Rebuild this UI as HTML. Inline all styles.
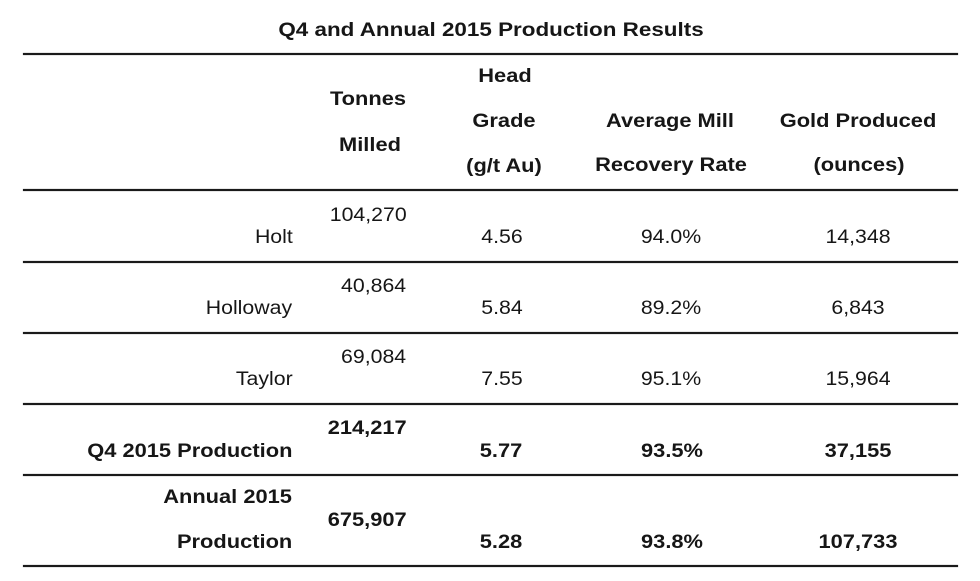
<!DOCTYPE html>
<html>
<head>
<meta charset="utf-8">
<style>
  html,body{margin:0;padding:0;background:#fff;}
  body{width:980px;height:581px;position:relative;overflow:hidden;
       font-family:"Liberation Sans", Arial, sans-serif;color:#161616;}
  .t{position:absolute;white-space:nowrap;font-size:19px;line-height:19px;}
  .b{font-weight:bold;}
  .c{transform-origin:50% 0;transform:translateX(-50%) scaleX(1.12);}
  .c.b{transform:translateX(-50%) scaleX(1.15);}
  .r{transform-origin:100% 0;transform:scaleX(1.12);}
  .r.b{transform:scaleX(1.15);}
  .ln{position:absolute;left:23px;width:935px;height:2px;background:#1a1a1a;
      box-shadow:0 0 1px #666;}
  .title{font-size:19.5px;line-height:19.5px;}
</style>
</head>
<body>
  <div class="t b c title" style="left:490.5px;top:20.5px;">Q4 and Annual 2015 Production Results</div>

  <div class="ln" style="top:53px;"></div>
  <div class="ln" style="top:189px;"></div>
  <div class="ln" style="top:261px;"></div>
  <div class="ln" style="top:332px;"></div>
  <div class="ln" style="top:403px;"></div>
  <div class="ln" style="top:474px;"></div>
  <div class="ln" style="top:565px;"></div>

  <!-- header -->
  <div class="t b c" style="left:368px;top:90px;">Tonnes</div>
  <div class="t b c" style="left:370px;top:135.5px;">Milled</div>
  <div class="t b c" style="left:505px;top:67px;">Head</div>
  <div class="t b c" style="left:504px;top:112px;">Grade</div>
  <div class="t b c" style="left:504px;top:156.5px;">(g/t Au)</div>
  <div class="t b c" style="left:670px;top:111.5px;">Average Mill</div>
  <div class="t b c" style="left:671px;top:156px;">Recovery Rate</div>
  <div class="t b c" style="left:857.5px;top:112px;">Gold Produced</div>
  <div class="t b c" style="left:859px;top:156px;">(ounces)</div>

  <!-- Holt -->
  <div class="t r" style="right:687px;top:228px;">Holt</div>
  <div class="t r" style="right:573px;top:205.5px;">104,270</div>
  <div class="t c" style="left:502px;top:228px;">4.56</div>
  <div class="t c" style="left:671px;top:228px;">94.0%</div>
  <div class="t c" style="left:858px;top:228px;">14,348</div>

  <!-- Holloway -->
  <div class="t r" style="right:688px;top:299px;">Holloway</div>
  <div class="t r" style="right:573.5px;top:276.5px;">40,864</div>
  <div class="t c" style="left:502px;top:299px;">5.84</div>
  <div class="t c" style="left:671px;top:299px;">89.2%</div>
  <div class="t c" style="left:858px;top:299px;">6,843</div>

  <!-- Taylor -->
  <div class="t r" style="right:687px;top:370px;">Taylor</div>
  <div class="t r" style="right:573.5px;top:347.5px;">69,084</div>
  <div class="t c" style="left:502px;top:370px;">7.55</div>
  <div class="t c" style="left:671px;top:370px;">95.1%</div>
  <div class="t c" style="left:858px;top:370px;">15,964</div>

  <!-- Q4 2015 -->
  <div class="t b r" style="right:688px;top:441.5px;">Q4 2015 Production</div>
  <div class="t b r" style="right:573px;top:419px;">214,217</div>
  <div class="t b c" style="left:501px;top:442px;">5.77</div>
  <div class="t b c" style="left:671.5px;top:442px;">93.5%</div>
  <div class="t b c" style="left:857.5px;top:442px;">37,155</div>

  <!-- Annual 2015 -->
  <div class="t b r" style="right:688px;top:488px;">Annual 2015</div>
  <div class="t b r" style="right:688px;top:533px;">Production</div>
  <div class="t b r" style="right:573px;top:510.5px;">675,907</div>
  <div class="t b c" style="left:501px;top:532.5px;">5.28</div>
  <div class="t b c" style="left:671.5px;top:532.5px;">93.8%</div>
  <div class="t b c" style="left:857.5px;top:532.5px;">107,733</div>
</body>
</html>
